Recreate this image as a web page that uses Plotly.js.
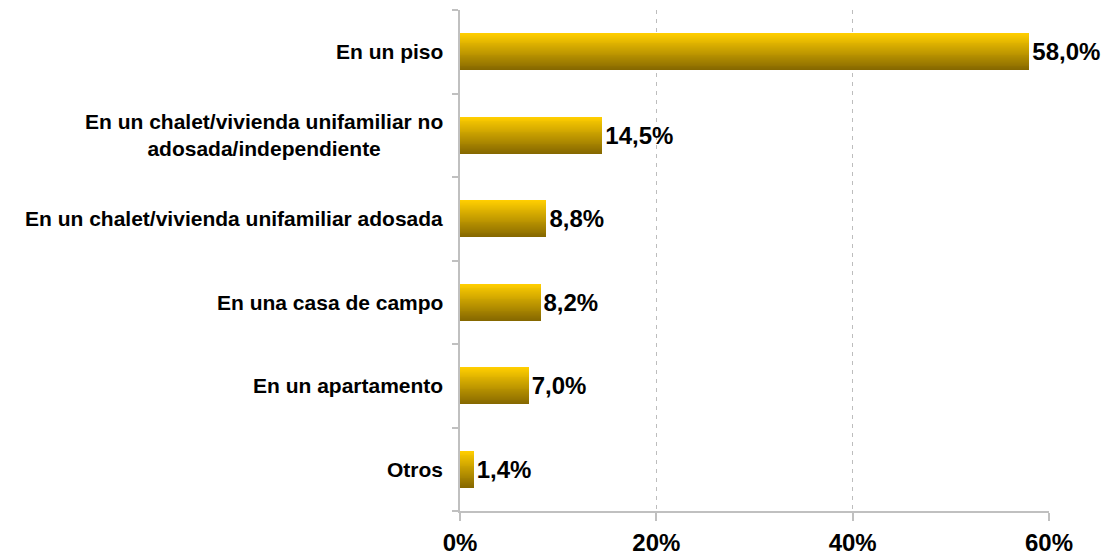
<!DOCTYPE html>
<html>
<head>
<meta charset="utf-8">
<script src="https://cdn.plot.ly/plotly-3.0.1.min.js"></script>
<style>
html,body{margin:0;padding:0;background:#fff;}
#chart{width:1113px;height:560px;}
</style>
</head>
<body>
<div id="chart"></div>
<script>
// ---- data ----
const categories = [
  "En un piso",
  "En un chalet/vivienda unifamiliar no<br>adosada/independiente",
  "En un chalet/vivienda unifamiliar adosada",
  "En una casa de campo",
  "En un apartamento",
  "Otros"
];
const values = [58.0, 14.5, 8.8, 8.2, 7.0, 1.4];
const xTickVals = [0, 20, 40, 60];
const xTickText = ["0%", "20%", "40%", "60%"];

// ---- style ----
const FONT = "Liberation Sans, Arial, sans-serif";
const BAR_W = 0.44;
const N = 40;
const topCol = [255, 206, 0];
const botCol = [134, 104, 0];
const catIdx = categories.map((c, i) => i);

function mix(t) {
  const c = topCol.map((v, k) => Math.round(v + (botCol[k] - v) * t));
  return `rgb(${c[0]},${c[1]},${c[2]})`;
}

const traces = [];
for (let i = 0; i < N; i++) {
  const start = i * BAR_W / N;
  traces.push({
    type: "bar",
    orientation: "h",
    x: values,
    y: catIdx,
    width: BAR_W - start,
    offset: -BAR_W / 2 + start,
    marker: {color: mix(i / (N - 1)), line: {width: 0}},
    hoverinfo: "skip",
    showlegend: false
  });
}
// label trace
traces.push({
  type: "bar",
  orientation: "h",
  x: values,
  y: catIdx,
  width: BAR_W,
  offset: -BAR_W / 2,
  marker: {color: "rgba(0,0,0,0)", line: {width: 0}},
  texttemplate: "%{x:.1f}%",
  textposition: "outside",
  cliponaxis: false,
  textfont: {family: FONT, size: 24, color: "#000", weight: "bold"},
  showlegend: false,
  hoverinfo: "skip"
});

const annotations = categories.map((c, i) => ({
  xref: "paper", yref: "y",
  x: 0, y: i,
  xanchor: "right", yanchor: "middle",
  xshift: -15,
  align: "center",
  text: c,
  showarrow: false,
  font: {family: FONT, size: 21, color: "#000", weight: "bold"}
}));

const layout = {
  width: 1113, height: 560,
  margin: {l: 460, r: 64, t: 10, b: 49},
  paper_bgcolor: "#fff", plot_bgcolor: "#fff",
  barmode: "overlay",
  bargap: 0,
  separators: ",.",
  showlegend: false,
  xaxis: {
    range: [0, 60],
    tickvals: xTickVals,
    ticktext: xTickText,
    ticks: "outside", ticklen: 8, tickwidth: 2, tickcolor: "#C0C0C0",
    showline: true, linecolor: "#C0C0C0", linewidth: 2,
    showgrid: true, gridcolor: "#BDBDBD", gridwidth: 1.5, griddash: "4px,5px",
    zeroline: false,
    ticklabelstandoff: 1,
    tickfont: {family: FONT, size: 24, color: "#000", weight: "bold"},
    fixedrange: true
  },
  yaxis: {
    range: [5.5, -0.5],
    tickvals: [-0.5, 0.5, 1.5, 2.5, 3.5, 4.5, 5.5],
    showticklabels: false,
    ticks: "outside", ticklen: 6, tickwidth: 2, tickcolor: "#C0C0C0",
    showline: true, linecolor: "#C0C0C0", linewidth: 2,
    showgrid: false, zeroline: false,
    fixedrange: true
  },
  annotations: annotations
};

Plotly.newPlot("chart", traces, layout, {displayModeBar: false, staticPlot: true});
</script>
</body>
</html>
